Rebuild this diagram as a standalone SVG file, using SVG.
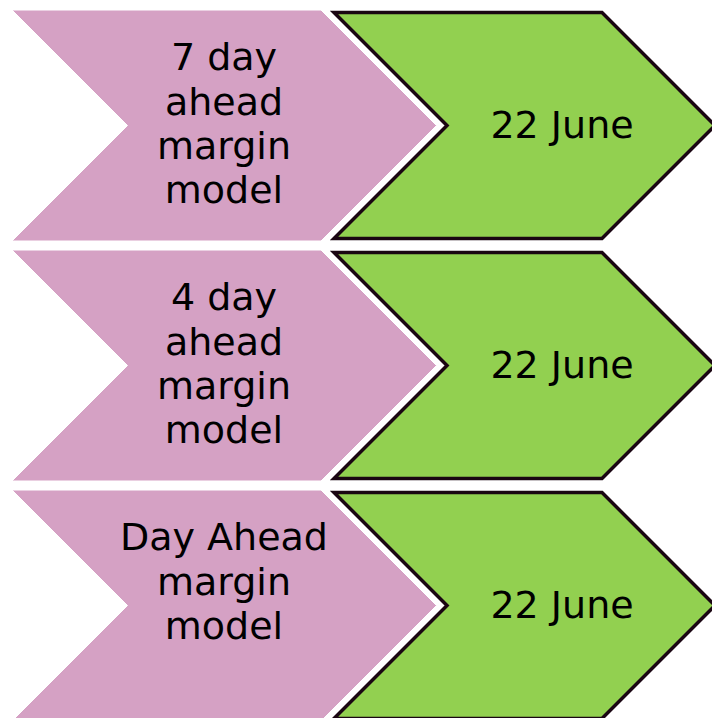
<svg xmlns="http://www.w3.org/2000/svg" width="712" height="718" viewBox="0 0 712 718">
  <defs>
    <!-- chevron shapes, each centred vertically on y=0 -->
    <polygon id="stage" points="12,-115.5 321,-115.5 436.5,0 321,115.5 12,115.5 127.5,0"/>
    <polygon id="date" points="334,-113 602,-113 715,0 602,113 334,113 447,0"/>
  </defs>
  <style>
    .stage { fill: #D5A1C4; stroke: #ffffff; stroke-width: 1; }
    .date { fill: #92D050; stroke: #1a0612; stroke-width: 3.5; stroke-linejoin: miter; }
    .label { font-family: "DejaVu Sans", "Liberation Sans", sans-serif; font-size: 38px; fill: #000000; text-anchor: middle; }
  </style>
  <rect width="712" height="718" fill="#ffffff"/>

  <g id="connectors"></g>

  <!-- row 1 -->
  <g id="stage-7day" transform="translate(0,125.5)">
    <use href="#stage" class="stage"/>
    <text class="label" x="224" y="-55.5">7 day</text>
    <text class="label" x="224" y="-11">ahead</text>
    <text class="label" x="224" y="33.5">margin</text>
    <text class="label" x="224" y="77.5">model</text>
  </g>
  <g id="date-7day" transform="translate(0,125.5)">
    <use href="#date" class="date"/>
    <text class="label" x="562" y="12">22 June</text>
  </g>

  <!-- row 2 -->
  <g id="stage-4day" transform="translate(0,365.5)">
    <use href="#stage" class="stage"/>
    <text class="label" x="224" y="-55.5">4 day</text>
    <text class="label" x="224" y="-11">ahead</text>
    <text class="label" x="224" y="33.5">margin</text>
    <text class="label" x="224" y="77.5">model</text>
  </g>
  <g id="date-4day" transform="translate(0,365.5)">
    <use href="#date" class="date"/>
    <text class="label" x="562" y="12">22 June</text>
  </g>

  <!-- row 3 -->
  <g id="stage-dayahead" transform="translate(0,605.5)">
    <use href="#stage" class="stage"/>
    <text class="label" x="224" y="-55.5">Day Ahead</text>
    <text class="label" x="224" y="-11">margin</text>
    <text class="label" x="224" y="33">model</text>
  </g>
  <g id="date-dayahead" transform="translate(0,605.5)">
    <use href="#date" class="date"/>
    <text class="label" x="562" y="12">22 June</text>
  </g>
</svg>
